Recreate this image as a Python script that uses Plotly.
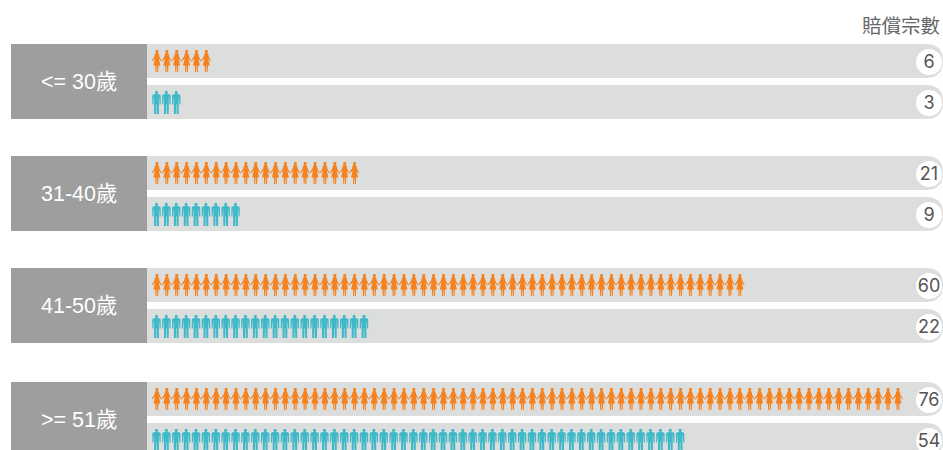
import plotly.graph_objects as go

age_groups = ["<= 30歲", "31-40歲", "41-50歲", ">= 51歲"]
female_counts = [6, 21, 60, 76]
male_counts = [3, 9, 22, 54]
header = "賠償宗數"

W, H = 943, 450
PITCH = 9.88
X0 = 152
ORANGE, TEAL = "#f5821f", "#3fb8c8"
BAR, BOX = "#dcdedd", "#9d9e9d"
CJK = "Liberation Sans, Noto Sans CJK TC, sans-serif"

def ux(px):
    return (px - X0) / PITCH

woman = [(3.9,0),(5.9,0),(6.5,1),(6.5,2.2),(5.7,3),(6.6,3.4),(7.4,6.5),(9.9,10.2),(9.9,11.4),(9,11.2),(6.8,8.6),(8.4,15.5),(6.5,15.5),(6.3,22),(5.3,22),(5.1,15.5),(4.7,15.5),(4.5,22),(3.5,22),(3.3,15.5),(1.4,15.5),(3,8.6),(.8,11.2),(-.1,11.4),(-.1,10.2),(2.4,6.5),(3.2,3.4),(4.1,3),(3.3,2.2),(3.3,1)]
man = [(3.5,0),(5.5,0),(6.1,1),(6.1,2.2),(5.5,3),(8,3.6),(8.7,4.6),(8.7,13.5),(7.6,13.5),(7.2,6.5),(6.9,6.5),(6.9,23),(4.9,23),(4.7,13),(4.3,13),(4.1,23),(2.1,23),(2.1,6.5),(1.8,6.5),(1.4,13.5),(.3,13.5),(.3,4.6),(1,3.6),(3.5,3),(2.9,2.2),(2.9,1)]

def icons(n, shape, top):
    xs, ys = [], []
    for i in range(n):
        for p in shape + shape[:1]:
            xs.append(i + p[0] / PITCH)
            ys.append(top + p[1])
        xs.append(None); ys.append(None)
    return xs, ys

fig = go.Figure()
shapes, annotations = [], []

def row_path(t, b):
    r = (b - t) / 2
    l = ux(147); rr = ux(943)
    k = ux(943 - r)
    return (f"M {l} {t} L {k} {t} Q {rr} {t} {rr} {t+r} Q {rr} {b} {k} {b} L {l} {b} Z")

tops = [44, 156, 268, 382]
for g, lab in enumerate(age_groups):
    t0 = tops[g]
    t1, b1 = t0, t0 + 34
    t2, b2 = t0 + 41, t0 + 75
    for t, b in ((t1, b1), (t2, b2)):
        shapes.append(dict(type="path", path=row_path(t, b), fillcolor=BAR, line_width=0, layer="below"))
    shapes.append(dict(type="rect", x0=ux(11), x1=ux(147), y0=t0, y1=t0 + 75, fillcolor=BOX, line_width=0, layer="below"))
    annotations.append(dict(x=ux(79), y=t0 + 38, text=lab, showarrow=False, xanchor="center", yanchor="middle",
                            font=dict(family=CJK, size=21.5, color="#ffffff")))
    for n, shape, col, t in ((female_counts[g], woman, ORANGE, t1), (male_counts[g], man, TEAL, t2)):
        xs, ys = icons(n, shape, t + 6)
        fig.add_trace(go.Scatter(x=xs, y=ys, mode="lines", fill="toself", fillcolor=col, line=dict(width=0, color=col), hoverinfo="skip"))
        fig.add_trace(go.Scatter(x=[ux(929)], y=[t + 18], mode="markers", marker=dict(size=26, color="#ffffff"), hoverinfo="skip"))
        fig.add_trace(go.Scatter(x=[ux(929)], y=[t + 19.5], mode="text", text=[str(n)], textposition="middle center",
                                 textfont=dict(family="Inter, sans-serif", size=18, color="#555555"), hoverinfo="skip"))

annotations.append(dict(x=ux(942), y=24, text=header, showarrow=False, xanchor="right", yanchor="middle",
                        font=dict(family="Noto Sans CJK TC, sans-serif", size=19.5, color="#666666")))

fig.update_layout(width=W, height=H, margin=dict(l=0, r=0, t=0, b=0), paper_bgcolor="#fff", plot_bgcolor="#fff",
                  showlegend=False, shapes=shapes, annotations=annotations,
                  xaxis=dict(range=[ux(0), ux(W)], visible=False, fixedrange=True),
                  yaxis=dict(range=[H, 0], visible=False, fixedrange=True))
fig.write_html("out.html", config={"displayModeBar": False},
               post_script="document.body.style.margin='0';document.body.style.overflow='hidden';")
